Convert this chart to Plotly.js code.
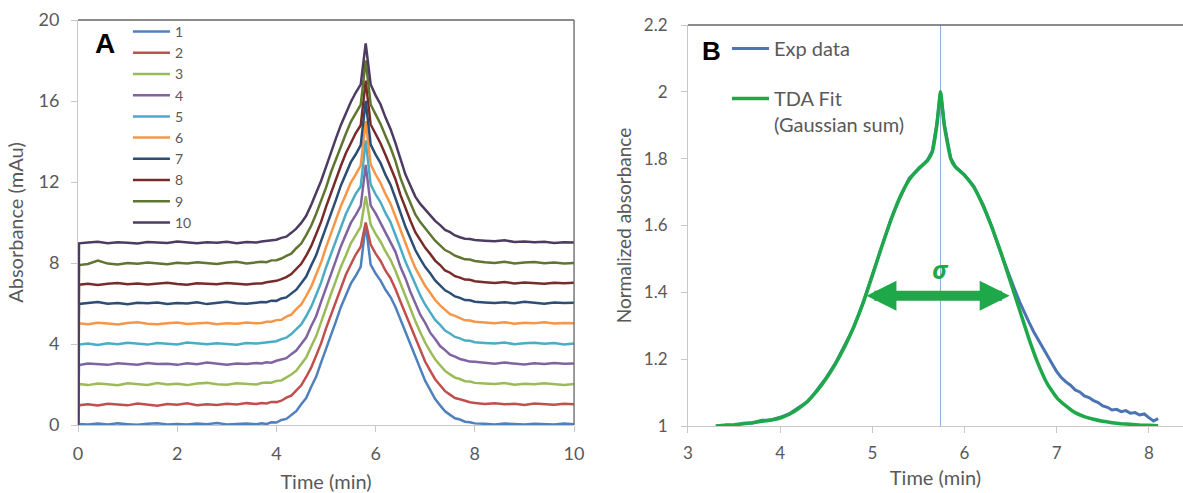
<!DOCTYPE html>
<html><head><meta charset="utf-8">
<script src="https://cdn.plot.ly/plotly-3.0.1.min.js"></script>
<style>html,body{margin:0;padding:0;background:#fff}#chart{width:1183px;height:493px}</style>
</head><body><div id="chart"></div>
<script>
// ---------- Panel A data (absorbance, mAu) ----------
const time = [0,0.02,0.2,0.4,0.6,0.8,1.0,1.2,1.4,1.6,1.8,2.0,2.2,2.4,2.6,2.8,3.0,3.2,3.4,3.6,
  3.7,3.8,3.9,4.0,4.1,4.2,4.3,4.4,4.5,4.6,4.7,4.8,4.9,5.0,5.1,5.2,5.3,5.4,5.5,5.6,5.7,5.8,
  5.9,6.0,6.1,6.2,6.3,6.4,6.5,6.6,6.7,6.8,6.9,7.0,7.1,7.2,7.3,7.4,7.5,7.6,7.7,7.8,7.9,8.0,
  8.2,8.4,8.6,8.8,9.0,9.2,9.4,9.6,9.8,10.0];
const s1 = [0,0.05,0.02,0.07,0.03,0.08,0.04,0.01,0.06,0.09,0.03,0.05,0.02,0.07,0.04,0.1,0.03,0.06,0.08,0.04,
  0.08,0.05,0.13,0.12,0.25,0.3,0.5,0.68,1.02,1.33,1.88,2.38,3.08,3.73,4.48,5.12,5.83,6.38,6.98,7.37,7.82,9.9,
  7.92,7.48,7.13,6.68,6.32,5.83,5.23,4.62,4.03,3.38,2.78,2.18,1.73,1.28,0.97,0.68,0.5,0.33,0.27,0.16,0.14,0.08,
  0.06,0.03,0.07,0.04,0.02,0.06,0.05,0.03,0.07,0.04];
const s2 = [0,0.98,1.03,0.96,1.05,1.01,0.97,1.06,1.02,0.95,1.04,1.0,1.07,0.98,1.03,0.99,1.05,1.01,1.08,1.04,
  1.09,1.06,1.14,1.13,1.2,1.35,1.45,1.72,1.96,2.37,2.83,3.42,4.03,4.77,5.43,6.17,6.78,7.42,7.93,8.42,8.8,10.0,
  8.91,8.46,8.1,7.62,7.25,6.72,6.1,5.49,4.89,4.26,3.68,3.12,2.68,2.26,1.96,1.67,1.5,1.33,1.27,1.2,1.12,1.09,
  1.04,1.07,1.02,1.05,0.99,1.06,1.03,1.0,1.05,1.02];
const s3 = [0,2.03,1.97,2.05,2.01,1.96,2.06,2.02,1.98,2.07,2.0,2.04,1.97,2.05,2.08,2.01,1.99,2.06,2.03,2.0,
  2.07,2.1,2.09,2.18,2.2,2.34,2.49,2.68,3.0,3.33,3.87,4.38,5.07,5.72,6.47,7.13,7.82,8.37,8.97,9.38,9.8,11.3,
  9.9,9.44,9.05,8.57,8.16,7.62,6.98,6.35,5.75,5.14,4.58,4.06,3.64,3.24,2.95,2.67,2.5,2.34,2.27,2.16,2.15,2.08,
  2.05,2.02,2.07,1.99,2.04,2.01,2.06,2.03,1.98,2.02];
const s4 = [0,2.96,3.04,3.0,2.97,3.05,3.02,2.98,3.06,3.01,3.03,2.97,3.05,3.0,3.08,3.02,2.98,3.04,3.01,3.06,
  3.04,3.1,3.08,3.17,3.24,3.3,3.5,3.68,4.0,4.32,4.88,5.37,6.08,6.73,7.47,8.13,8.83,9.37,9.98,10.38,10.82,12.85,
  10.85,10.45,9.98,9.55,9.05,8.55,7.81,7.25,6.58,6.05,5.45,5.04,4.56,4.25,3.9,3.7,3.47,3.38,3.26,3.2,3.13,3.12,
  3.06,3.02,3.08,3.03,2.99,3.05,3.01,3.06,3.02,3.04];
const s5 = [0,3.97,4.02,3.95,4.04,3.99,4.06,4.01,3.97,4.05,4.02,3.98,4.07,4.03,3.99,4.04,4.01,3.96,4.05,4.02,
  4.05,4.08,4.13,4.14,4.24,4.31,4.49,4.72,4.97,5.37,5.83,6.42,7.03,7.78,8.43,9.17,9.78,10.42,10.93,11.42,11.78,14.05,
  11.88,11.39,11.0,10.46,10.02,9.41,8.74,8.07,7.5,6.88,6.4,5.94,5.57,5.19,4.94,4.66,4.52,4.35,4.28,4.17,4.16,4.09,
  4.05,4.02,4.07,3.99,4.04,4.06,4.01,4.05,3.98,4.03];
const s6 = [0,5.02,4.98,5.05,5.01,4.96,5.04,5.07,5.0,4.97,5.03,5.06,4.99,5.02,5.05,4.98,5.03,5.0,5.06,5.02,
  5.04,5.1,5.1,5.18,5.2,5.35,5.45,5.72,5.95,6.37,6.82,7.43,8.02,8.77,9.47,10.13,10.82,11.38,11.97,12.38,12.82,15.0,
  12.87,12.37,11.95,11.4,10.93,10.3,9.62,8.94,8.35,7.76,7.3,6.86,6.53,6.17,5.91,5.69,5.47,5.39,5.28,5.17,5.16,5.1,
  5.06,5.03,5.07,5.0,5.05,5.02,5.07,5.01,5.04,5.02];
const s7 = [0,5.98,6.03,6.07,5.99,6.02,5.96,6.04,6.01,6.05,5.98,6.03,6.0,6.06,5.97,6.02,6.08,6.01,5.99,6.04,
  6.07,6.06,6.14,6.13,6.25,6.3,6.5,6.68,7.0,7.33,7.87,8.38,9.08,9.73,10.47,11.12,11.83,12.37,12.98,13.37,13.82,16.0,
  13.85,13.35,12.93,12.35,11.87,11.2,10.5,9.8,9.22,8.64,8.2,7.8,7.49,7.14,6.9,6.65,6.52,6.35,6.28,6.17,6.16,6.09,
  6.05,6.02,6.06,6.01,6.08,6.03,5.99,6.05,6.02,6.04];
const s8 = [0,6.93,6.98,6.92,6.97,7.01,6.95,6.99,6.94,6.98,7.02,6.96,6.93,7.0,6.97,6.95,7.01,6.98,6.94,6.99,
  6.99,7.05,7.08,7.12,7.2,7.3,7.45,7.68,7.96,8.36,8.83,9.42,10.03,10.77,11.45,12.17,12.8,13.42,13.95,14.42,14.8,17.0,
  14.84,14.36,13.9,13.33,12.78,12.14,11.36,10.7,10.1,9.52,9.12,8.75,8.45,8.12,7.9,7.63,7.52,7.35,7.28,7.18,7.17,7.1,
  7.05,7.01,7.06,6.99,7.04,7.02,6.97,7.03,7.0,7.02];
const s9 = [0,7.9,7.95,8.12,7.97,7.93,8.0,7.96,8.02,7.98,7.94,8.01,7.97,8.04,7.99,7.95,8.02,8.06,7.98,8.03,
  8.06,8.04,8.13,8.14,8.22,8.35,8.46,8.73,8.96,9.38,9.84,10.42,11.07,11.72,12.48,13.13,13.82,14.38,14.97,15.4,15.82,18.0,
  15.83,15.34,14.86,14.27,13.7,13.03,12.2,11.56,10.95,10.4,10.02,9.69,9.41,9.1,8.88,8.64,8.52,8.36,8.27,8.18,8.17,8.1,
  8.04,8.0,8.06,7.98,8.03,8.05,7.99,8.02,7.97,8.0];
const s10 = [0,8.97,9.01,9.05,8.98,9.03,9.0,8.96,9.04,9.02,8.99,9.06,9.01,8.97,9.03,9.0,9.05,8.98,9.04,9.01,
  9.06,9.1,9.12,9.15,9.24,9.3,9.49,9.7,9.98,10.33,10.86,11.42,12.05,12.75,13.48,14.15,14.82,15.4,15.95,16.42,16.82,18.85,
  16.82,16.28,15.83,15.18,14.62,13.92,13.12,12.38,11.83,11.28,10.92,10.63,10.37,10.08,9.87,9.63,9.52,9.36,9.27,9.2,9.18,9.14,
  9.1,9.07,9.12,9.04,9.06,9.02,9.05,8.99,9.03,9.01];
const seriesNames = ['1','2','3','4','5','6','7','8','9','10'];
const seriesColors = ['#4F81BD','#C0504D','#9BBB59','#8064A2','#4BACC6','#F79646','#2C4D75','#772C2A','#5F7530','#4D3B62'];
const seriesValues = [s1,s2,s3,s4,s5,s6,s7,s8,s9,s10];
const tickA_x = [0,2,4,6,8,10];
const tickA_y = [0,4,8,12,16,20];

// ---------- Panel B data (normalized absorbance) ----------
const expTime = [3.4,3.5,3.6,3.7,3.8,3.9,4.0,4.1,4.2,4.3,4.4,4.5,4.6,4.7,4.8,4.9,5.0,5.1,5.2,5.3,5.4,5.5,5.6,
  5.65,5.7,5.74,5.78,5.85,5.9,6.0,6.1,6.2,6.3,6.4,6.5,
  6.55,6.6,6.65,6.7,6.75,6.8,6.85,6.9,6.95,7.0,7.05,7.1,7.15,7.2,7.25,7.3,7.35,7.4,7.45,7.5,7.55,7.6,7.65,7.7,7.75,7.8,7.85,7.9,7.95,8.0,8.05,8.1];
const expData = [1.003,1.001,1.008,1.009,1.017,1.018,1.026,1.037,1.055,1.073,1.108,1.145,1.188,1.24,1.296,1.37,1.453,1.532,1.618,1.683,1.742,1.768,1.797,
  1.823,1.905,2.0,1.905,1.802,1.777,1.752,1.718,1.663,1.594,1.513,1.438,
  1.405,1.37,1.338,1.31,1.282,1.257,1.236,1.21,1.186,1.163,1.145,1.132,1.122,1.108,1.102,1.09,1.085,1.076,1.07,1.06,1.056,1.048,1.05,1.043,1.046,1.038,1.04,1.033,1.036,1.025,1.015,1.022];
const fitTime = [3.3,3.4,3.5,3.6,3.7,3.8,3.9,4.0,4.1,4.2,4.3,4.4,4.5,4.6,4.7,4.8,4.9,5.0,5.1,5.2,5.3,5.4,5.5,5.6,
  5.65,5.7,5.74,5.78,5.85,
  5.9,6.0,6.1,6.2,6.3,6.4,6.5,6.6,6.7,6.8,6.9,7.0,7.1,7.2,7.3,7.4,7.5,7.6,7.7,7.8,7.9,8.0,8.1];
const fitData = [1.0,1.002,1.004,1.007,1.01,1.014,1.018,1.024,1.035,1.052,1.075,1.105,1.142,1.186,1.237,1.298,1.368,1.45,1.535,1.615,1.685,1.737,1.77,1.795,
  1.82,1.9,2.0,1.9,1.8,
  1.775,1.75,1.715,1.66,1.592,1.515,1.43,1.345,1.26,1.185,1.125,1.085,1.06,1.04,1.028,1.02,1.014,1.01,1.007,1.005,1.003,1.002,1.001];
const peakTime = 5.74;
const sigmaStart = 4.92, sigmaEnd = 6.49, sigmaLevel = 1.39, sigmaLabelLevel = 1.47;
const tickB_x = [3,4,5,6,7,8];
const tickB_y = [1,1.2,1.4,1.6,1.8,2,2.2];

// ---------- traces ----------
const FONT = 'Lato, "Open Sans", sans-serif';
const GREY = '#595959';
const traces = [];
seriesValues.forEach((v, i) => {
  traces.push({x: time, y: v, type: 'scatter', mode: 'lines', name: seriesNames[i],
    line: {color: seriesColors[i], width: 2.5}, xaxis: 'x', yaxis: 'y', legend: 'legend'});
});
traces.push({x: expTime, y: expData, type: 'scatter', mode: 'lines', name: 'Exp data',
  line: {color: '#4A74B4', width: 3}, xaxis: 'x2', yaxis: 'y2', legend: 'legend2', legendgroup: 'g1'});
traces.push({x: fitTime, y: fitData, type: 'scatter', mode: 'lines', name: 'TDA Fit<br>(Gaussian sum)',
  line: {color: '#1FA84A', width: 3.5, shape: 'spline', smoothing: 0.4}, xaxis: 'x2', yaxis: 'y2', legend: 'legend2', legendgroup: 'g2'});

const axisCommon = {
  showgrid: false, zeroline: false, showline: true, linecolor: '#c8c8c8', linewidth: 1,
  ticks: 'outside', ticklen: 6, tickcolor: '#c8c8c8', tickfont: {family: FONT, size: 18, color: GREY},
  automargin: false
};

const layout = {
  width: 1183, height: 493,
  margin: {l: 78, r: 0, t: 20, b: 67},
  paper_bgcolor: '#fff', plot_bgcolor: '#fff',
  font: {family: FONT, color: GREY},
  xaxis: Object.assign({}, axisCommon, {domain: [0, 0.4489], range: [0, 10], tickvals: tickA_x, anchor: 'y',
    ticklabelstandoff: 6,
    title: {text: 'Time (min)', font: {family: FONT, size: 20, color: GREY}, standoff: 18}}),
  yaxis: Object.assign({}, axisCommon, {domain: [0.00246, 1], range: [0, 20], tickvals: tickA_y, anchor: 'x',
    ticklabelstandoff: 8,
    title: {text: 'Absorbance (mAu)', font: {family: FONT, size: 20, color: GREY}, standoff: 9}}),
  xaxis2: Object.assign({}, axisCommon, {domain: [0.552, 1], range: [3, 8.37], tickvals: tickB_x, anchor: 'y2',
    ticklabelstandoff: 6, tickfont: {family: FONT, size: 17, color: GREY},
    title: {text: 'Time (min)', font: {family: FONT, size: 20, color: GREY}, standoff: 8}}),
  yaxis2: Object.assign({}, axisCommon, {domain: [0, 0.98768], range: [1, 2.2], tickvals: tickB_y, anchor: 'x2',
    ticklabelstandoff: 10, tickfont: {family: FONT, size: 17, color: GREY},
    title: {text: 'Normalized absorbance', font: {family: FONT, size: 19, color: GREY}, standoff: 7}}),
  legend: {x: 0.0452, y: 1.0099, xanchor: 'left', yanchor: 'top', bgcolor: 'rgba(0,0,0,0)', borderwidth: 0,
    font: {family: FONT, size: 14, color: GREY}, tracegroupgap: 0, itemwidth: 37},
  legend2: {x: 0.5873, y: 0.9778, xanchor: 'left', yanchor: 'top', bgcolor: 'rgba(0,0,0,0)', borderwidth: 0,
    font: {family: FONT, size: 20, color: GREY}, tracegroupgap: 21, valign: 'top', itemwidth: 37},
  shapes: [
    {type: 'line', xref: 'x domain', yref: 'y domain', x0: 0, x1: 1, y0: 1, y1: 1, line: {color: '#666666', width: 1.3}},
    {type: 'line', xref: 'x domain', yref: 'y domain', x0: 1, x1: 1, y0: 0, y1: 1, line: {color: '#666666', width: 1.3}},
    {type: 'line', xref: 'x2 domain', yref: 'y2 domain', x0: 0, x1: 1, y0: 1, y1: 1, line: {color: '#666666', width: 1.3}},
    {type: 'line', xref: 'x2', yref: 'y2 domain', x0: peakTime, x1: peakTime, y0: 0, y1: 1, line: {color: '#8EAADB', width: 1}, layer: 'below'}
  ],
  annotations: [
    {xref: 'paper', yref: 'paper', x: 0.0244, y: 0.9433, xanchor: 'center', yanchor: 'middle', text: '<b>A</b>', showarrow: false,
      font: {family: 'Liberation Sans, Arial, sans-serif', size: 28, color: '#000'}},
    {xref: 'paper', yref: 'paper', x: 0.5729, y: 0.9236, xanchor: 'center', yanchor: 'middle', text: '<b>B</b>', showarrow: false,
      font: {family: 'Liberation Sans, Arial, sans-serif', size: 26, color: '#000'}},
    {xref: 'x2', yref: 'y2', x: sigmaEnd, y: sigmaLevel, axref: 'x2', ayref: 'y2', ax: sigmaStart, ay: sigmaLevel,
      text: '', showarrow: true, arrowside: 'end+start', arrowhead: 2, startarrowhead: 2,
      arrowsize: 0.6, startarrowsize: 0.6, arrowwidth: 10, arrowcolor: '#1FA84A'},
    {xref: 'x2', yref: 'y2', x: peakTime, y: sigmaLabelLevel, text: '<b><i>σ</i></b>', showarrow: false,
      font: {family: '"Open Sans", "DejaVu Sans", sans-serif', size: 25, color: '#1FA84A'}}
  ],
  showlegend: true
};

Plotly.newPlot('chart', traces, layout, {staticPlot: true, displayModeBar: false});
</script>
</body></html>
